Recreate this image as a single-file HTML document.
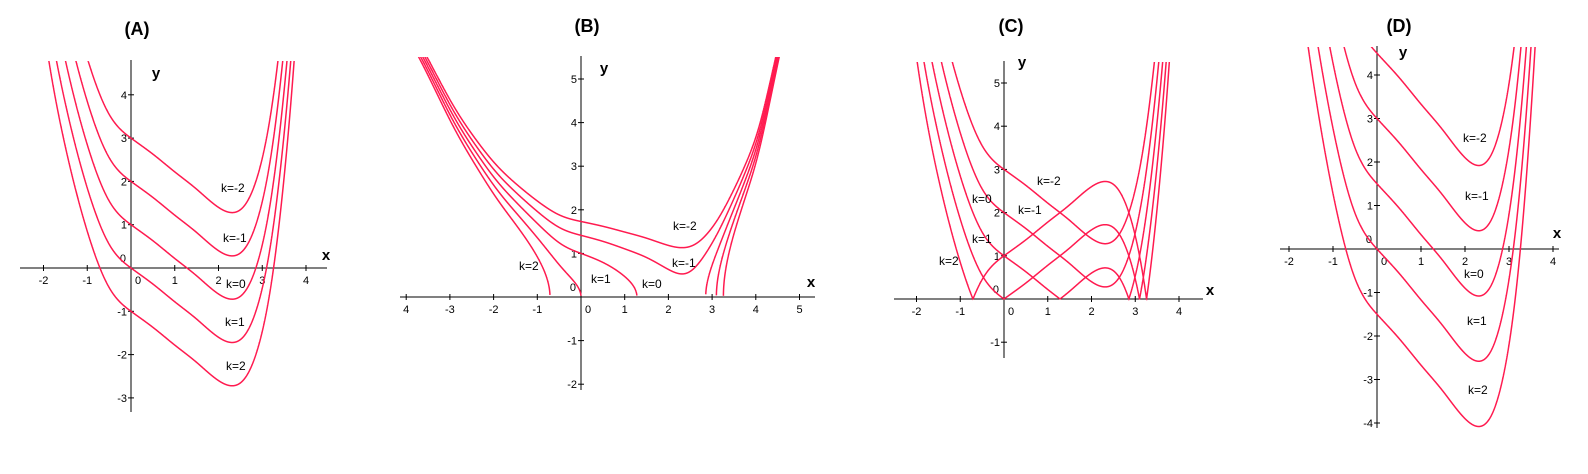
<!DOCTYPE html>
<html><head><meta charset="utf-8">
<style>
html,body{margin:0;padding:0;background:#fff;}
svg{display:block;font-family:"Liberation Sans",sans-serif;}
.t{font-size:11px;fill:#000;}
.ttl{font-size:18px;font-weight:bold;fill:#000;}
.ax{font-size:15px;font-weight:bold;fill:#000;}
.kl{font-size:12px;fill:#000;}
</style></head>
<body>
<svg id="fig" width="1588" height="474" viewBox="0 0 1588 474" xmlns="http://www.w3.org/2000/svg"></svg>
<script>
// base function samples g(x)
const gx = [-4.6,-3.7,-3,-2.4,-2,-1.5,-1,-0.5,0,0.5,1,1.5,2,2.3,2.6,2.9,3.2,3.5,3.8,4.1,4.45,4.7];
const gy = [50,31,17.5,10,6.6,3.8,1.85,0.55,0,-0.37,-0.78,-1.18,-1.6,-1.72,-1.55,-0.85,0.6,3.1,6.8,13,27,40];
const kValues = [-2,-1,0,1,2];
const kLabels = ["k=-2","k=-1","k=0","k=1","k=2"];
const xTicksA = [-2,-1,0,1,2,3,4];
const yTicksA = [4,3,2,1,-1,-2,-3];
const xTicksB = [-4,-3,-2,-1,0,1,2,3,4,5];
const yTicksB = [5,4,3,2,1,-1,-2];
const xTicksC = [-2,-1,0,1,2,3,4];
const yTicksC = [5,4,3,2,1,-1];
const xTicksD = [-2,-1,0,1,2,3,4];
const yTicksD = [4,3,2,1,-1,-2,-3,-4];

const NS="http://www.w3.org/2000/svg";
const svg=document.getElementById('fig');
function mk(tag,attrs,parent){const e=document.createElementNS(NS,tag);for(const k in attrs)e.setAttribute(k,attrs[k]);(parent||svg).appendChild(e);return e;}

// natural cubic spline through (gx, gy)
const nG=gx.length;
const M=(function(){
  const n=nG,h=[],a=new Array(n).fill(0),b=new Array(n).fill(1),c=new Array(n).fill(0),r=new Array(n).fill(0);
  for(let i=0;i<n-1;i++)h.push(gx[i+1]-gx[i]);
  for(let i=1;i<n-1;i++){a[i]=h[i-1];b[i]=2*(h[i-1]+h[i]);c[i]=h[i];r[i]=6*((gy[i+1]-gy[i])/h[i]-(gy[i]-gy[i-1])/h[i-1]);}
  for(let i=1;i<n;i++){const w=a[i]/b[i-1];b[i]-=w*c[i-1];r[i]-=w*r[i-1];}
  const m=new Array(n).fill(0);m[n-1]=r[n-1]/b[n-1];
  for(let i=n-2;i>=0;i--)m[i]=(r[i]-c[i]*m[i+1])/b[i];
  return m;
})();
function g(x){
  let i=0;
  if(x<=gx[0])i=0;else if(x>=gx[nG-1])i=nG-2;else while(gx[i+1]<x)i++;
  const h=gx[i+1]-gx[i],A=(gx[i+1]-x)/h,B=(x-gx[i])/h;
  return A*gy[i]+B*gy[i+1]+((A*A*A-A)*M[i]+(B*B*B-B)*M[i+1])*h*h/6;
}

const panels=[
 {id:'a',title:'(A)',tx:137,ty:35,ox:131,oy:268,sx:43.75,sy:43.3,xl:20,xr:327,yt:60,yb:412,clipTop:61,xt:xTicksA,yt2:yTicksA,xlab:[326,260],ylab:[156,78],
  f:(x,k)=>g(x)+1-k,labels:[[221,192],[223,242],[226,288],[225,326],[226,370]]},
 {id:'b',title:'(B)',tx:587,ty:32,ox:581,oy:297,sx:43.7,sy:43.6,xl:400,xr:815,yt:56,yb:390,clipTop:57,xt:xTicksB,yt2:yTicksB,xlab:[811,287],ylab:[604,73],
  f:(x,k)=>{const v=g(x)+1-k;return v<0?NaN:Math.sqrt(v);},labels:[[673,230],[672,267],[642,288],[591,283],[519,270]]},
 {id:'c',title:'(C)',tx:1011,ty:32,ox:1004,oy:299,sx:43.75,sy:43.2,xl:894,xr:1203,yt:61,yb:358,clipTop:62,xt:xTicksC,yt2:yTicksC,xlab:[1210,295],ylab:[1022,67],
  f:(x,k)=>Math.abs(g(x)+1-k),labels:[[1037,185],[1018,214],[972,203],[972,243],[939,265]]},
 {id:'d',title:'(D)',tx:1399,ty:32,ox:1377,oy:249,sx:44,sy:43.5,xl:1280,xr:1559,yt:46,yb:428,clipTop:47,xt:xTicksD,yt2:yTicksD,xlab:[1557,238],ylab:[1403,57],
  f:(x,k)=>1.5*(g(x)+1-k),labels:[[1463,142],[1465,200],[1464,278],[1467,325],[1468,394]]}
];

panels.forEach(p=>{
  const grp=mk('g',{});
  
  
  const X=v=>p.ox+v*p.sx, Y=v=>p.oy-v*p.sy;
  const cp=mk('clipPath',{id:'clip'+p.id},grp);
  mk('rect',{x:p.xl-30,y:p.clipTop,width:p.xr-p.xl+40,height:p.yb-p.clipTop+40},cp);
  const t=mk('text',{x:p.tx,y:p.ty,class:'ttl','text-anchor':'middle'},grp);t.textContent=p.title;
  
  
  const xa=mk('line',{x1:p.xl,y1:p.oy,x2:p.xr,y2:p.oy,stroke:'#000','stroke-width':1},grp);
  
  
  const ya=mk('line',{x1:p.ox,y1:p.yt,x2:p.ox,y2:p.yb,stroke:'#000','stroke-width':1},grp);
  
  
  p.xt.forEach(v=>{
    if(v!==0)mk('line',{x1:X(v),y1:p.oy-3,x2:X(v),y2:p.oy+3,stroke:'#000'},grp);
    const tl=mk('text',{x:X(v)+(v===0?7:0),y:p.oy+16,class:'t','text-anchor':'middle'},grp);
    tl.textContent=(p.id==='b'&&v===-4)?'4':String(v);
    
    
  });
  const zl=mk('text',{x:p.ox-5,y:p.oy-6,class:'t','text-anchor':'end'},grp);
  zl.textContent='0';
  
  
  p.yt2.forEach(v=>{
    mk('line',{x1:p.ox-3,y1:Y(v),x2:p.ox+3,y2:Y(v),stroke:'#000'},grp);
    const tl=mk('text',{x:p.ox-4,y:Y(v)+4,class:'t','text-anchor':'end'},grp);
    tl.textContent=String(v);
    
    
  });
  const xl=mk('text',{x:p.xlab[0],y:p.xlab[1],class:'ax','text-anchor':'middle'},grp);xl.textContent='x';
  
  
  const yl=mk('text',{x:p.ylab[0],y:p.ylab[1],class:'ax','text-anchor':'middle'},grp);yl.textContent='y';
  
  
  const x0=Math.max(gx[0],(p.xl-30-p.ox)/p.sx), x1=Math.min(gx[nG-1],(p.xr+10-p.ox)/p.sx);
  kValues.forEach((k,ki)=>{
    let d='',pen=false;
    for(let x=x0;x<=x1;x+=0.0015){
      const y=p.f(x,k);
      if(isNaN(y)||Y(y)<p.clipTop-30){pen=false;continue;}
      d+=(pen?'L':'M')+X(x).toFixed(2)+','+Y(y).toFixed(2);pen=true;
    }
    const path=mk('path',{d:d,fill:'none',stroke:'#ff1a4f','stroke-width':1.5,'clip-path':'url(#clip'+p.id+')'},grp);
    
    
    const lb=mk('text',{x:p.labels[ki][0],y:p.labels[ki][1],class:'kl'},grp);lb.textContent=kLabels[ki];
    
    
  });
});
</script>
</body></html>
